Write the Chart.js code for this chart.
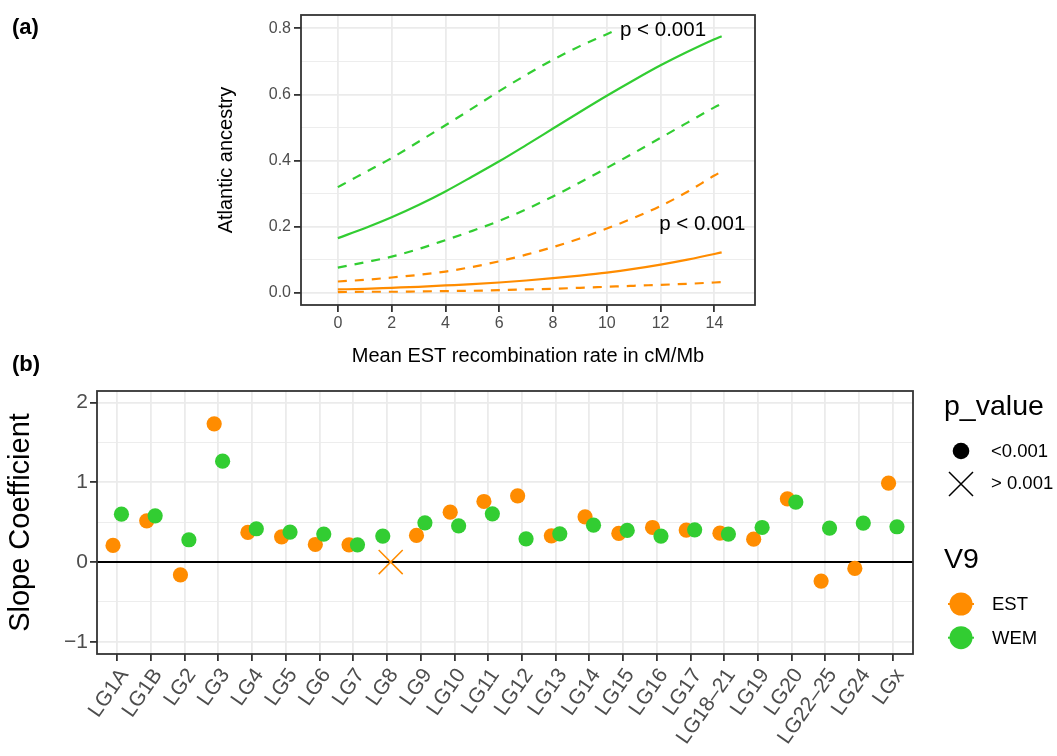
<!DOCTYPE html>
<html><head><meta charset="utf-8">
<script src="https://cdn.jsdelivr.net/npm/chart.js@4"></script>
<style>
html,body{margin:0;padding:0;background:#fff;}
#wrap{position:relative;width:1057px;height:756px;overflow:hidden;background:#fff;}
canvas{position:absolute;left:0;}
#ca{top:0;}
#cb{top:370px;}
</style></head><body>
<div id="wrap"><canvas id="ca" width="1057" height="380"></canvas><canvas id="cb" width="1057" height="386"></canvas></div>
<script>
// ---------- Panel (a) data ----------
const recombX   = [0,1,2,3,4,5,6,7,8,9,10,11,12,13,14,14.27];
const wemFit    = [0.166,0.196,0.229,0.266,0.307,0.352,0.398,0.447,0.497,0.547,0.596,0.643,0.688,0.729,0.767,0.776];
const wemLower  = [0.077,0.093,0.110,0.133,0.160,0.188,0.218,0.253,0.292,0.334,0.378,0.423,0.469,0.515,0.561,0.572];
const wemUpperX = [0,1,2,3,4,5,6,7,8,9,10,10.4];
const wemUpper  = [0.320,0.364,0.408,0.457,0.507,0.558,0.610,0.659,0.705,0.746,0.782,0.797];
const estFit    = [0.011,0.013,0.016,0.019,0.023,0.027,0.032,0.038,0.045,0.053,0.062,0.073,0.086,0.101,0.118,0.123];
const estLower  = [0.003,0.004,0.004,0.005,0.006,0.007,0.009,0.011,0.013,0.016,0.019,0.022,0.025,0.028,0.032,0.033];
const estUpper  = [0.035,0.040,0.047,0.055,0.065,0.079,0.096,0.116,0.139,0.165,0.195,0.227,0.263,0.306,0.355,0.367];
const xTicksA      = [0,2,4,6,8,10,12,14];
const yMajorTicksA = [0,0.2,0.4,0.6,0.8];
const yMinorTicksA = [0.1,0.3,0.5,0.7];
const annotText = ['p < 0.001','p < 0.001'];
const annotX    = [12.09, 13.55];
const annotY    = [0.794, 0.207];

// ---------- Panel (b) data ----------
const categories = ['LG1A','LG1B','LG2','LG3','LG4','LG5','LG6','LG7','LG8','LG9','LG10','LG11','LG12','LG13','LG14','LG15','LG16','LG17','LG18–21','LG19','LG20','LG22–25','LG24','LGx'];
const estSlope = [0.209,0.518,-0.159,1.733,0.372,0.317,0.221,0.217,0.000,0.334,0.626,0.760,0.831,0.330,0.568,0.359,0.434,0.401,0.363,0.288,0.793,-0.238,-0.079,0.990];
const wemSlope = [0.601,0.580,0.280,1.265,0.418,0.376,0.351,0.217,0.326,0.493,0.455,0.605,0.292,0.355,0.463,0.397,0.326,0.405,0.351,0.434,0.752,0.426,0.489,0.443];
const estP = ['<0.001','<0.001','<0.001','<0.001','<0.001','<0.001','<0.001','<0.001','>0.001','<0.001','<0.001','<0.001','<0.001','<0.001','<0.001','<0.001','<0.001','<0.001','<0.001','<0.001','<0.001','<0.001','<0.001','<0.001'];
const wemP = categories.map(() => '<0.001');
const yMajorTicksB = [-1,0,1,2];
const yMinorTicksB = [-0.5,0.5,1.5];

// ---------- styles ----------
const FONT = "'Liberation Sans', Arial, Helvetica, sans-serif";
const ORANGE = '#FF8C00', GREEN = '#32CD32';
const GRID = '#EBEBEB', FRAME = '#333333', TICKTXT = '#4D4D4D';
Chart.defaults.font.family = FONT;
Chart.defaults.animation = false;

const isIn = (arr, v) => arr.some(a => Math.abs(a - v) < 1e-9);

function lineDs(label, xs, ys, color, dashed) {
  return {
    label, data: xs.map((x, i) => ({x, y: ys[i]})),
    borderColor: color, borderWidth: 2.2, borderDash: dashed ? [9, 8] : [],
    pointRadius: 0, fill: false, cubicInterpolationMode: 'monotone'
  };
}

const framePluginA = {
  id: 'frameA',
  afterDatasetsDraw(chart) {
    const {ctx, scales: {x, y}} = chart;
    ctx.save();
    ctx.fillStyle = '#000';
    ctx.font = `20.5px ${FONT}`;
    ctx.textAlign = 'center';
    ctx.textBaseline = 'middle';
    annotText.forEach((t, i) => ctx.fillText(t, x.getPixelForValue(annotX[i]), y.getPixelForValue(annotY[i])));
    ctx.restore();
  },
  afterDraw(chart) {
    const {ctx, chartArea: a} = chart;
    ctx.save();
    ctx.strokeStyle = FRAME; ctx.lineWidth = 1.8;
    ctx.strokeRect(a.left, a.top, a.right - a.left, a.bottom - a.top);
    ctx.fillStyle = '#000';
    ctx.font = `bold 22px ${FONT}`;
    ctx.textAlign = 'left'; ctx.textBaseline = 'alphabetic';
    ctx.fillText('(a)', 12, 34);
    ctx.fillText('(b)', 12, 371);
    ctx.restore();
  }
};

new Chart(document.getElementById('ca'), {
  type: 'line',
  data: {
    datasets: [
      lineDs('WEM fit', recombX, wemFit, GREEN, false),
      lineDs('WEM upper', wemUpperX, wemUpper, GREEN, true),
      lineDs('WEM lower', recombX, wemLower, GREEN, true),
      lineDs('EST fit', recombX, estFit, ORANGE, false),
      lineDs('EST upper', recombX, estUpper, ORANGE, true),
      lineDs('EST lower', recombX, estLower, ORANGE, true)
    ]
  },
  options: {
    responsive: false,
    animation: false,
    layout: {padding: {left: 205, right: 302, top: 15, bottom: 0}},
    plugins: {legend: {display: false}, tooltip: {enabled: false}},
    scales: {
      x: {
        type: 'linear', min: -1.37, max: 15.51,
        afterBuildTicks: s => { s.ticks = xTicksA.map(v => ({value: v})); },
        afterFit: s => { s.height = 75; },
        ticks: {font: {size: 16}, color: TICKTXT, padding: 2, maxRotation: 0, autoSkip: false, callback: v => String(v)},
        grid: {color: GRID, lineWidth: 1.8, tickColor: FRAME, tickWidth: 1.8, tickLength: 7},
        border: {display: false},
        title: {display: true, text: 'Mean EST recombination rate in cM/Mb', color: '#000', font: {size: 20}, padding: {top: 0, bottom: 11.5}}
      },
      y: {
        type: 'linear', min: -0.036, max: 0.84,
        afterBuildTicks: s => { s.ticks = yMajorTicksA.concat(yMinorTicksA).sort((a, b) => a - b).map(v => ({value: v})); },
        afterFit: s => { s.width = 96; },
        ticks: {font: {size: 16}, color: TICKTXT, padding: 3, autoSkip: false, callback: v => isIn(yMajorTicksA, v) ? v.toFixed(1) : ''},
        grid: {
          color: GRID,
          lineWidth: c => isIn(yMajorTicksA, c.tick.value) ? 1.8 : 0.9,
          tickColor: c => isIn(yMajorTicksA, c.tick.value) ? FRAME : 'rgba(0,0,0,0)',
          tickWidth: 1.8, tickLength: 7
        },
        border: {display: false},
        title: {display: true, text: 'Atlantic ancestry', color: '#000', font: {size: 20}, padding: {top: 9, bottom: 0}}
      }
    }
  },
  plugins: [framePluginA]
});

// ---------- Panel (b) ----------
// dodge: groups ordered by (p_value, V9); two groups present in each category
function dodgeEst(i) { return estP[i] === '>0.001' ? 0.11 : -0.125; }
function dodgeWem(i) { return estP[i] === '>0.001' ? -0.125 : 0.125; }

const framePluginB = {
  id: 'frameB',
  beforeDatasetsDraw(chart) {
    const {ctx, chartArea: a, scales: {y}} = chart;
    ctx.save();
    ctx.strokeStyle = '#000'; ctx.lineWidth = 2;
    const y0 = y.getPixelForValue(0);
    ctx.beginPath(); ctx.moveTo(a.left, y0); ctx.lineTo(a.right, y0); ctx.stroke();
    ctx.restore();
  },
  afterDraw(chart) {
    const {ctx, chartArea: a} = chart;
    ctx.save();
    ctx.strokeStyle = FRAME; ctx.lineWidth = 1.8;
    ctx.strokeRect(a.left, a.top, a.right - a.left, a.bottom - a.top);
    // legend
    const lx = 961, tx = 991;
    ctx.fillStyle = '#000';
    ctx.textAlign = 'left';
    ctx.font = `28.5px ${FONT}`; ctx.textBaseline = 'alphabetic';
    ctx.fillText('p_value', 944, 45);
    ctx.fillText('V9', 944, 198);
    ctx.font = `18.5px ${FONT}`; ctx.textBaseline = 'middle';
    ctx.beginPath(); ctx.arc(lx, 81, 8.3, 0, Math.PI * 2); ctx.fill();
    ctx.fillText('<0.001', tx, 82);
    ctx.strokeStyle = '#000'; ctx.lineWidth = 1.5;
    ctx.beginPath(); ctx.moveTo(lx - 12, 102); ctx.lineTo(lx + 12, 126); ctx.moveTo(lx - 12, 126); ctx.lineTo(lx + 12, 102); ctx.stroke();
    ctx.fillText('> 0.001', tx, 114);
    [[ORANGE, 'EST', 234], [GREEN, 'WEM', 267.7]].forEach(([c, t, yy]) => {
      ctx.strokeStyle = c; ctx.lineWidth = 2;
      ctx.beginPath(); ctx.moveTo(lx - 13, yy); ctx.lineTo(lx + 13, yy); ctx.stroke();
      ctx.fillStyle = c;
      ctx.beginPath(); ctx.arc(lx, yy, 11.5, 0, Math.PI * 2); ctx.fill();
      ctx.fillStyle = '#000';
      ctx.fillText(t, 992, yy + 1);
    });
    ctx.restore();
  }
};

new Chart(document.getElementById('cb'), {
  type: 'scatter',
  data: {
    datasets: [
      {
        label: 'WEM', order: 0,
        data: categories.map((c, i) => ({x: i + dodgeWem(i), y: wemSlope[i]})),
        backgroundColor: GREEN, borderColor: GREEN,
        pointStyle: c => wemP[c.dataIndex] === '>0.001' ? 'crossRot' : 'circle',
        pointRadius: c => wemP[c.dataIndex] === '>0.001' ? 17 : 7.6,
        pointBorderWidth: c => wemP[c.dataIndex] === '>0.001' ? 1.5 : 0,
        pointHoverRadius: 7.6
      },
      {
        label: 'EST', order: 1,
        data: categories.map((c, i) => ({x: i + dodgeEst(i), y: estSlope[i]})),
        backgroundColor: ORANGE, borderColor: ORANGE,
        pointStyle: c => estP[c.dataIndex] === '>0.001' ? 'crossRot' : 'circle',
        pointRadius: c => estP[c.dataIndex] === '>0.001' ? 17 : 7.6,
        pointBorderWidth: c => estP[c.dataIndex] === '>0.001' ? 1.5 : 0,
        pointHoverRadius: 7.6
      }
    ]
  },
  options: {
    responsive: false,
    animation: false,
    layout: {padding: {left: 0, right: 144, top: 21, bottom: 0}},
    plugins: {legend: {display: false}, tooltip: {enabled: false}},
    scales: {
      x: {
        type: 'linear', min: -0.6, max: categories.length - 0.4,
        afterBuildTicks: s => { s.ticks = categories.map((c, i) => ({value: i})); },
        afterFit: s => { s.height = 102; },
        ticks: {font: {size: 21}, color: TICKTXT, padding: 3, labelOffset: 7, autoSkip: false, minRotation: 55, maxRotation: 55,
                callback: v => categories[Math.round(v)]},
        grid: {color: GRID, lineWidth: 1.8, tickColor: FRAME, tickWidth: 1.8, tickLength: 7},
        border: {display: false}
      },
      y: {
        type: 'linear', min: -1.152, max: 2.145,
        afterBuildTicks: s => { s.ticks = yMajorTicksB.concat(yMinorTicksB).sort((a, b) => a - b).map(v => ({value: v})); },
        afterFit: s => { s.width = 97; },
        ticks: {font: {size: 21}, color: TICKTXT, padding: 2, autoSkip: false,
                callback: v => isIn(yMajorTicksB, v) ? String(v).replace('-', '\u2212') : ''},
        grid: {
          color: GRID,
          lineWidth: c => isIn(yMajorTicksB, c.tick.value) ? 1.8 : 0.9,
          tickColor: c => isIn(yMajorTicksB, c.tick.value) ? FRAME : 'rgba(0,0,0,0)',
          tickWidth: 1.8, tickLength: 7
        },
        border: {display: false},
        title: {display: true, text: 'Slope Coefficient', color: '#000', font: {size: 29}, padding: {top: 4, bottom: 0}}
      }
    }
  },
  plugins: [framePluginB]
});
</script>
</body></html>
